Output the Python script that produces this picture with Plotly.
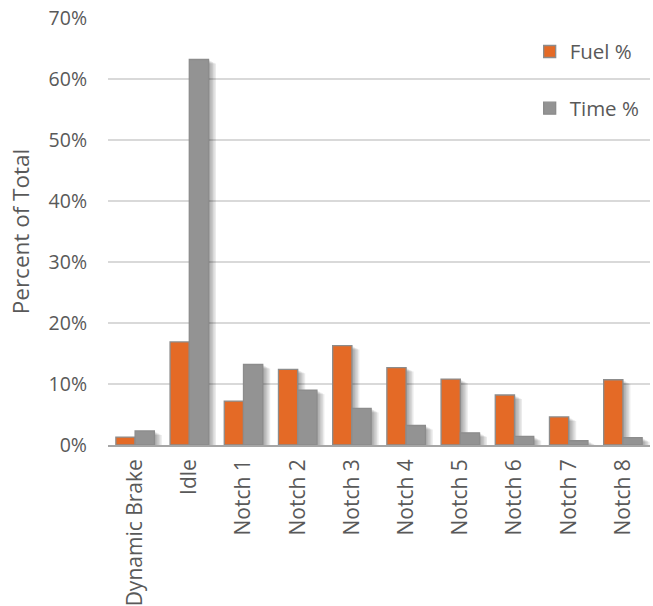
import plotly.graph_objects as go

# Locomotive throttle notch distribution
categories = ["Dynamic Brake", "Idle", "Notch 1", "Notch 2", "Notch 3",
              "Notch 4", "Notch 5", "Notch 6", "Notch 7", "Notch 8"]
fuel_pct = [1.3, 16.9, 7.2, 12.4, 16.3, 12.7, 10.8, 8.2, 4.6, 10.7]
time_pct = [2.3, 63.2, 13.2, 9.0, 6.0, 3.2, 2.0, 1.4, 0.7, 1.2]
y_ticks = [0, 10, 20, 30, 40, 50, 60, 70]
y_tick_labels = [f"{v}%" for v in y_ticks]

FUEL_COLOR = "#E46A26"
TIME_COLOR = "#939393"
EDGE_COLOR = "#8C8C8C"
TEXT_COLOR = "#595959"
FONT = "Open Sans"

BAR_W = 0.355
PX_X = 1 / 54.2     # one pixel in category units
PX_Y = 70 / 427     # one pixel in percent units

fig = go.Figure()

# soft drop shadows behind each bar
for offset0, vals in ((-BAR_W, fuel_pct), (0.0, time_pct)):
    for k in (1, 2, 3, 4, 5):
        fig.add_trace(go.Bar(
            x=categories,
            y=[max(v - k * 0.8 * PX_Y, 0) for v in vals],
            offset=offset0 + k * 1.5 * PX_X,
            width=BAR_W,
            marker=dict(color="rgba(0,0,0,0.08)", line=dict(width=0)),
            showlegend=False,
            hoverinfo="skip",
        ))

fig.add_trace(go.Bar(
    x=categories, y=fuel_pct, name="Fuel %",
    offset=-BAR_W, width=BAR_W,
    marker=dict(color=FUEL_COLOR, line=dict(color=EDGE_COLOR, width=1.3)),
    legendgroup="fuel",
))
fig.add_trace(go.Bar(
    x=categories, y=time_pct, name="Time %",
    offset=0.0, width=BAR_W,
    marker=dict(color=TIME_COLOR, line=dict(color=EDGE_COLOR, width=1.3)),
    legendgroup="time",
))

fig.update_layout(
    width=653, height=606,
    barmode="overlay",
    paper_bgcolor="white",
    plot_bgcolor="white",
    margin=dict(l=108, r=3, t=18, b=161),
    font=dict(family=FONT, size=20, color=TEXT_COLOR),
    legend=dict(
        x=0.778, y=0.968, xanchor="left", yanchor="top",
        bgcolor="rgba(0,0,0,0)",
        font=dict(family=FONT, size=20.5, color=TEXT_COLOR),
        traceorder="grouped",
        tracegroupgap=27,
        itemwidth=30,
    ),
    xaxis=dict(
        type="category",
        tickangle=-90,
        tickfont=dict(family=FONT, size=21, color=TEXT_COLOR),
        showgrid=False,
        showline=True, linecolor="#A6A6A6", linewidth=1.5,
        ticks="",
        ticklabelstandoff=4,
        range=[-0.5, 9.5],
        automargin=False,
    ),
    yaxis=dict(
        range=[0, 70],
        tickvals=y_ticks,
        ticktext=y_tick_labels,
        tickfont=dict(family=FONT, size=19.5, color=TEXT_COLOR),
        showgrid=True, gridcolor="#D9D9D9", gridwidth=1.5,
        zeroline=False,
        showline=False,
        ticks="",
        ticklabelstandoff=20,
        automargin=False,
        title=dict(text="Percent of Total",
                   font=dict(family=FONT, size=22.5, color=TEXT_COLOR),
                   standoff=12),
    ),
)

fig.write_html("out.html")
